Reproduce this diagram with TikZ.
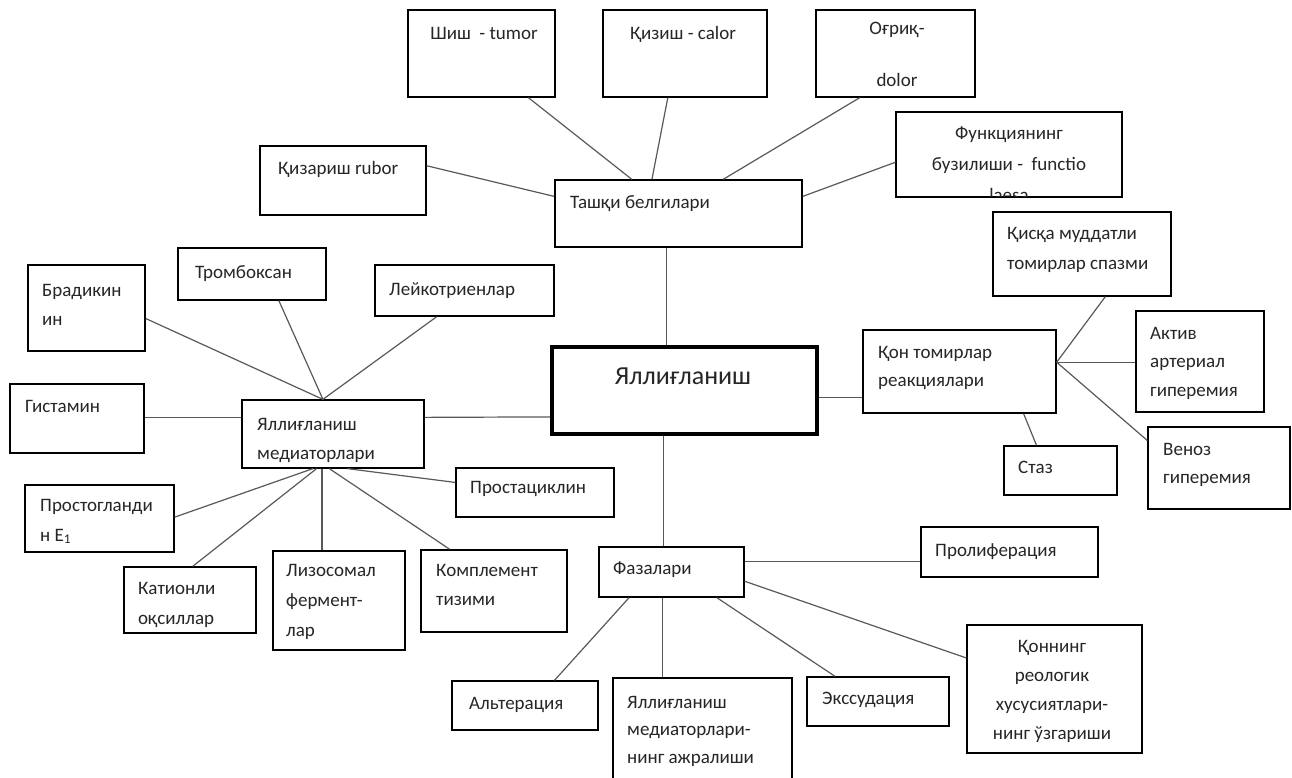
\documentclass[tikz,border=0pt]{standalone}
\usepackage{fontspec}
\setmainfont{Carlito}
\usetikzlibrary{calc}
\tikzset{
  box/.style={draw=black, line width=1.3pt, inner sep=0pt},
  hub/.style={draw=black, line width=4pt, inner sep=0pt},
  % texts are placed by the baseline of their last line
  txt/.style={inner sep=0pt, anchor=base west, align=left, text=black!85,
              font=\fontsize{19}{29.5}\selectfont},
  ctxt/.style={txt, anchor=base, align=center},
  ls/.style={font=\fontsize{19}{#1}\selectfont},
  link/.style={draw=black!65, line width=1.2pt},
}
% box from its corners (x1,y1) to (x2,y2), y measured downwards
\newcommand\mkbox[6][box]{\node[#1, minimum width={(#4-#2)*1pt}, minimum height={(#5-#3)*1pt}]
  (#6) at ({(#2+#4)/2},{(#3+#5)/2}) {};}
\begin{document}
\begin{tikzpicture}[x=1pt, y=-1pt]
\fill[white] (0,0) rectangle (1292,777);
\useasboundingbox (0,0) rectangle (1292,777);

% ---- boxes ----
\mkbox{408}{10}{555}{97}{shish}
\mkbox{603}{10}{767}{97}{qizish}
\mkbox{816}{10}{975}{97}{ogriq}
\mkbox{896}{112}{1122}{197}{funk}
\mkbox{260}{146}{426}{215}{qizarish}
\mkbox{555}{180}{802}{247}{tashqi}
\mkbox{28}{265}{145}{351}{brad}
\mkbox{178}{248}{326}{300}{tromb}
\mkbox{375}{265}{554}{316}{leyk}
\mkbox{10}{384}{144}{453}{gist}
\mkbox{242}{400}{424}{468}{med}
\mkbox[hub]{552}{347}{817}{434}{center}
\mkbox{863}{330}{1056}{413}{qon}
\mkbox{993}{212}{1171}{296}{qisqa}
\mkbox{1136}{311}{1264}{412}{aktiv}
\mkbox{1148}{427}{1290}{509}{venoz}
\mkbox{1004}{446}{1117}{495}{staz}
\mkbox{25}{485}{174}{552}{prost}
\mkbox{124}{567}{256}{633}{kation}
\mkbox{273}{551}{405}{650}{lizo}
\mkbox{421}{550}{567}{632}{kompl}
\mkbox{456}{468}{614}{517}{prostats}
\mkbox{599}{547}{744}{597}{faz}
\mkbox{921}{527}{1098}{577}{prolif}
\mkbox{452}{681}{598}{730}{alter}
\mkbox{613}{678}{792}{800}{medaj}
\mkbox{807}{677}{949}{726}{exs}
\mkbox{967}{625}{1142}{753}{qonning}

% ---- texts ----
\node[ctxt] (t-shish) at (484,39) {Шиш\ \ - tumor};
\node[ctxt] (t-qizish) at (683,39) {Қизиш - calor};
\node[ctxt] (t-ogriq) at (897,86) {Оғриқ-\\[22.5pt]dolor};
\begin{scope}
  \clip (funk.north west) rectangle ([yshift=1.2pt]funk.south east);
  \node[ctxt, ls=31] (t-funk) at (1009,201) {Функциянинг\\бузилиши -\ \ functio\\laesa};
\end{scope}
\node[txt] (t-qizarish) at (278,174) {Қизариш rubor};
\node[txt] (t-tashqi) at (570,208) {Ташқи белгилари};
\node[txt, ls=29] (t-brad) at (42,325) {Брадикин\\ин};
\node[txt] (t-tromb) at (195,278) {Тромбоксан};
\node[txt] (t-leyk) at (389,295) {Лейкотриенлар};
\node[txt] (t-gist) at (25,412) {Гистамин};
\node[txt, ls=29] (t-med) at (257,459) {Яллиғланиш\\медиаторлари};
\node[ctxt, font=\fontsize{26}{30}\selectfont] (t-center) at (683,384) {Яллиғланиш};
\node[txt, ls=28] (t-qon) at (878,386) {Қон томирлар\\реакциялари};
\node[txt, ls=30] (t-qisqa) at (1007,269) {Қисқа муддатли\\томирлар спазми};
\node[txt, ls=28.5] (t-aktiv) at (1150,396) {Актив\\артериал\\гиперемия};
\node[txt, ls=28] (t-venoz) at (1163,483) {Веноз\\гиперемия};
\node[txt] (t-staz) at (1018,473) {Стаз};
\node[txt, ls=30] (t-prost) at (40,541) {Простогланди\\н E\textsubscript{1}};
\node[txt, ls=30] (t-kation) at (138,624) {Катионли\\оқсиллар};
\node[txt, ls=30] (t-lizo) at (286,636) {Лизосомал\\фермент-\\лар};
\node[txt, ls=29] (t-kompl) at (436,605) {Комплемент\\тизими};
\node[txt] (t-prostats) at (470,493) {Простациклин};
\node[txt] (t-faz) at (613,574) {Фазалари};
\node[txt] (t-prolif) at (935,556) {Пролиферация};
\node[txt] (t-alter) at (469,709) {Альтерация};
\node[txt, ls=27.5] (t-medaj) at (627,763) {Яллиғланиш\\медиаторлари-\\нинг ажралиши};
\node[txt] (t-exs) at (822,704) {Экссудация};
\node[ctxt, ls=29] (t-qonning) at (1052,739) {Қоннинг\\реологик\\хусусиятлари-\\нинг ўзгариши};

% ---- connectors ----
% outer signs
\draw[link] ($(shish.south west)!0.816!(shish.south east)$) -- ($(tashqi.north west)!0.312!(tashqi.north east)$);
\draw[link] ($(qizish.south west)!0.396!(qizish.south east)$) -- ($(tashqi.north west)!0.393!(tashqi.north east)$);
\draw[link] ($(ogriq.south west)!0.277!(ogriq.south east)$) -- ($(tashqi.north west)!0.68!(tashqi.north east)$);
\draw[link] ($(qizarish.north east)!0.29!(qizarish.south east)$) -- ($(tashqi.north west)!0.25!(tashqi.south west)$);
\draw[link] ($(tashqi.north east)!0.25!(tashqi.south east)$) -- ($(funk.north west)!0.59!(funk.south west)$);
% central links
\coordinate (ctop) at ($(center.north west)!0.434!(center.north east)$);
\draw[link] (ctop) -- (ctop |- tashqi.south);
\coordinate (cright) at ($(center.north east)!0.575!(center.south east)$);
\draw[link] (cright) -- (cright -| qon.west);
\draw[link] ($(center.north west)!0.79!(center.south west)$) -- ($(med.north east)!0.26!(med.south east)$);
\coordinate (cbot) at ($(center.south west)!0.423!(center.south east)$);
\draw[link] (cbot) -- (cbot |- faz.north);
% mediators
\coordinate (gr) at ($(gist.north east)!0.49!(gist.south east)$);
\draw[link] (gr) -- (gr -| med.west);
\coordinate (mtop) at ($(med.north west)!0.445!(med.north east)$);
\draw[link] ($(brad.north east)!0.62!(brad.south east)$) -- (mtop);
\draw[link] ($(tromb.south west)!0.68!(tromb.south east)$) -- (mtop);
\draw[link] ($(leyk.south west)!0.346!(leyk.south east)$) -- (mtop);
\draw[link] ($(prost.north east)!0.48!(prost.south east)$) -- ($(med.south west)!0.39!(med.south east)$);
\draw[link] ($(kation.north west)!0.52!(kation.north east)$) -- ($(med.south west)!0.41!(med.south east)$);
\coordinate (mb) at ($(med.south west)!0.44!(med.south east)$);
\draw[link] (mb) -- (mb |- lizo.north);
\draw[link] ($(med.south west)!0.48!(med.south east)$) -- ($(kompl.north west)!0.2!(kompl.north east)$);
\draw[link] ($(med.south west)!0.58!(med.south east)$) -- ($(prostats.north west)!0.3!(prostats.south west)$);
% vascular reactions
\coordinate (qhub) at ($(qon.north east)!0.39!(qon.south east)$);
\draw[link] (qhub) -- ($(qisqa.south west)!0.63!(qisqa.south east)$);
\draw[link] (qhub) -- (qhub -| aktiv.west);
\draw[link] (qhub) -- ($(venoz.north west)!0.17!(venoz.south west)$);
\draw[link] ($(qon.south west)!0.83!(qon.south east)$) -- ($(staz.north west)!0.29!(staz.north east)$);
% phases
\coordinate (fr) at ($(faz.north east)!0.3!(faz.south east)$);
\draw[link] (fr) -- (fr -| prolif.west);
\draw[link] ($(faz.south west)!0.21!(faz.south east)$) -- ($(alter.north west)!0.7!(alter.north east)$);
\coordinate (fb) at ($(faz.south west)!0.44!(faz.south east)$);
\draw[link] (fb) -- (fb |- medaj.north);
\draw[link] ($(faz.south west)!0.81!(faz.south east)$) -- ($(exs.north west)!0.2!(exs.north east)$);
\draw[link] ($(faz.north east)!0.68!(faz.south east)$) -- ($(qonning.north west)!0.26!(qonning.south west)$);
\end{tikzpicture}
\end{document}
